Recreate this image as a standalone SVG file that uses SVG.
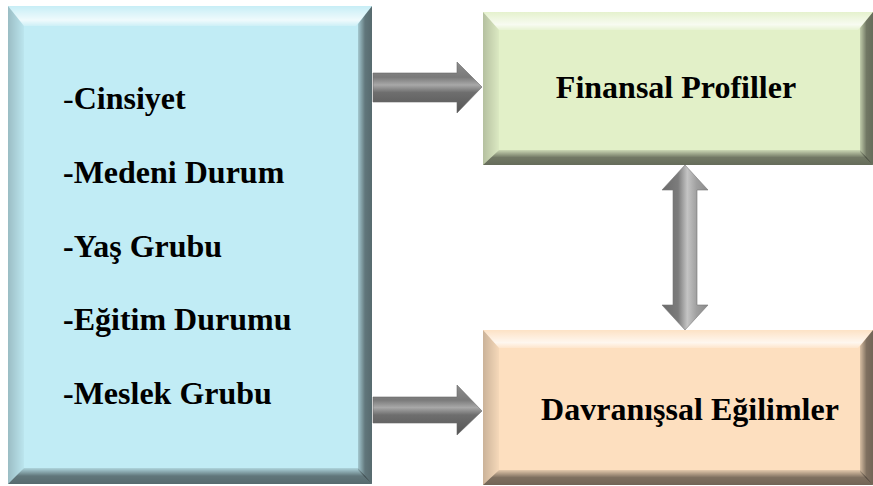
<svg xmlns="http://www.w3.org/2000/svg" width="873" height="486" viewBox="0 0 873 486">
<defs>
<linearGradient id="gTop" x1="0" y1="0" x2="0" y2="1">
<stop offset="0" stop-color="#fff" stop-opacity="0.1"/>
<stop offset="0.7" stop-color="#fff" stop-opacity="0.75"/>
<stop offset="1" stop-color="#fff" stop-opacity="0.2"/>
</linearGradient>
<linearGradient id="gLeft" x1="0" y1="0" x2="1" y2="0">
<stop offset="0" stop-color="#000" stop-opacity="0.2"/>
<stop offset="1" stop-color="#000" stop-opacity="0.03"/>
</linearGradient>
<linearGradient id="gRight" x1="0" y1="0" x2="1" y2="0">
<stop offset="0" stop-color="#000" stop-opacity="0.15"/>
<stop offset="0.5" stop-color="#000" stop-opacity="0.5"/>
<stop offset="1" stop-color="#000" stop-opacity="0.55"/>
</linearGradient>
<linearGradient id="gBottom" x1="0" y1="0" x2="0" y2="1">
<stop offset="0" stop-color="#000" stop-opacity="0.1"/>
<stop offset="0.5" stop-color="#000" stop-opacity="0.5"/>
<stop offset="1" stop-color="#000" stop-opacity="0.55"/>
</linearGradient>
<linearGradient id="gArrH" x1="0" y1="0" x2="0" y2="1">
<stop offset="0" stop-color="#8c8c8c"/>
<stop offset="0.3" stop-color="#7a7a7a"/>
<stop offset="0.45" stop-color="#a8a8a8"/>
<stop offset="0.6" stop-color="#6e6e6e"/>
<stop offset="1" stop-color="#555"/>
</linearGradient>
<linearGradient id="gArrV" x1="0" y1="0" x2="1" y2="0">
<stop offset="0" stop-color="#6a6a6a"/>
<stop offset="0.35" stop-color="#7c7c7c"/>
<stop offset="0.55" stop-color="#c4c4c4"/>
<stop offset="0.75" stop-color="#a0a0a0"/>
<stop offset="1" stop-color="#8a8a8a"/>
</linearGradient>
</defs>
<style>
.top{fill:url(#gTop)}
.left{fill:url(#gLeft)}
.right{fill:url(#gRight)}
.bottom{fill:url(#gBottom)}
.t{font-family:"Liberation Serif","Times New Roman",serif;font-weight:bold;font-size:32px;fill:#000}
.arrH{fill:url(#gArrH);stroke:#6a6a6a;stroke-width:0.6}
.arrV{fill:url(#gArrV);stroke:#777;stroke-width:0.6}
</style>
<rect width="873" height="486" fill="#fff"/>

<g id="demografi">
<rect x="8" y="6" width="364" height="478" fill="#C1ECF5"/>
<polygon class="top" points="8,6 372,6 356,26 24,26"/>
<polygon class="left" points="8,6 24,26 24,468 8,484"/>
<polygon class="right" points="372,6 372,484 358,470 358,24"/>
<polygon class="bottom" points="8,484 24,468 358,468 372,484"/>
<text class="t" x="63" y="109"><tspan font-weight="normal">-</tspan>Cinsiyet</text>
<text class="t" x="63" y="183">-Medeni Durum</text>
<text class="t" x="63" y="257">-Yaş Grubu</text>
<text class="t" x="63" y="330">-Eğitim Durumu</text>
<text class="t" x="63" y="404">-Meslek Grubu</text>
</g>

<g id="finansal">
<rect x="483" y="12" width="390" height="153" fill="#E2F0C8"/>
<polygon class="top" points="483,12 873,12 858,30 499,30"/>
<polygon class="left" points="483,12 499,30 499,150 483,165"/>
<polygon class="right" points="873,12 873,165 860,152 860,28"/>
<polygon class="bottom" points="483,165 499,150 860,150 873,165"/>
<text class="t" x="676" y="98" text-anchor="middle">Finansal Profiller</text>
</g>

<g id="davranis">
<rect x="483" y="330" width="390" height="155" fill="#FDDFBF"/>
<polygon class="top" points="483,330 873,330 858,348 499,348"/>
<polygon class="left" points="483,330 499,348 499,470 483,485"/>
<polygon class="right" points="873,330 873,485 860,472 860,346"/>
<polygon class="bottom" points="483,485 499,470 860,470 873,485"/>
<text class="t" x="690" y="420" text-anchor="middle">Davranışsal Eğilimler</text>
</g>

<g id="connectors">
<polygon class="arrH" points="373,73 457,73 457,62 482,87 457,113 457,102 373,102"/>
<polygon class="arrH" points="373,397 457,397 457,385 482,411 457,435 457,423 373,423"/>
<polygon class="arrV" points="685,165 708,190 697,190 697,305 708,305 685,330 662,305 673,305 673,190 662,190"/>
</g>
</svg>
